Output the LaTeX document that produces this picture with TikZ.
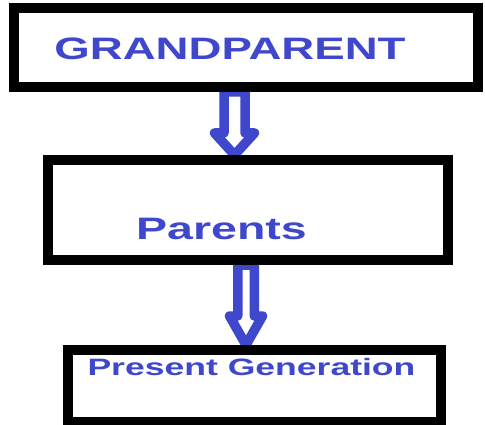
\documentclass[tikz,border=0pt]{standalone}
\usepackage{fontspec}
\setmainfont{Liberation Sans}
\usepackage{graphicx}
\usetikzlibrary{backgrounds}
\definecolor{pblue}{RGB}{63,72,204}
\tikzset{
  genbox/.style={draw=black, line width=10pt, fill=none, inner sep=0pt, rectangle},
  gentext/.style={text=pblue, font=\bfseries, inner sep=0pt, anchor=base},
  hollowline/.style={draw=pblue, fill=white, line width=9.5pt, line join=round},
  hollowarrow/.pic={
    \path[hollowline] (-\pgfkeysvalueof{/tikz/shafthalf},0) -- (-\pgfkeysvalueof{/tikz/shafthalf},\pgfkeysvalueof{/tikz/headstart})
      -- (-\pgfkeysvalueof{/tikz/headhalf},\pgfkeysvalueof{/tikz/headstart}) -- (0,\pgfkeysvalueof{/tikz/tiplen})
      -- (\pgfkeysvalueof{/tikz/headhalf},\pgfkeysvalueof{/tikz/headstart}) -- (\pgfkeysvalueof{/tikz/shafthalf},\pgfkeysvalueof{/tikz/headstart})
      -- (\pgfkeysvalueof{/tikz/shafthalf},0) -- cycle;
  },
  shafthalf/.initial=10, headhalf/.initial=20, headstart/.initial=40, tiplen/.initial=60
}
\begin{document}
\begin{tikzpicture}[x=1pt,y=-1pt]
\useasboundingbox (0,0) rectangle (485,425);
\node[genbox, minimum width=464pt, minimum height=79pt] (g) at (246,47.5) {};
\node[genbox, minimum width=400pt, minimum height=100pt] (p) at (248,210) {};
\node[genbox, minimum width=373pt, minimum height=72pt] (c) at (254.5,386) {};
\node[gentext, font=\fontsize{31}{31}\selectfont\bfseries] (gt) at (230,60) {\scalebox{1.47}[1]{GRANDPARENT}};
\node[gentext, font=\fontsize{31}{31}\selectfont\bfseries] (pt) at (221.5,240) {\scalebox{1.5}[1]{Parents}};
\node[gentext, font=\fontsize{23.7}{23.7}\selectfont\bfseries] (ct) at (251.5,375) {\scalebox{1.5}[1]{Present Generation}};
\begin{pgfonlayer}{background}
  \fill[white] (0,0) rectangle (485,425);
  \path (g.south) ++(-11.5,0) coordinate (a1);
  \path (p.south) ++(-2,0) coordinate (a2);
  \pic[shafthalf=10.5, headhalf=20, headstart=41, tiplen=63] at (a1) {hollowarrow};
  \pic[shafthalf=8.25, headhalf=16.5, headstart=51, tiplen=80] at (a2) {hollowarrow};
\end{pgfonlayer}
\end{tikzpicture}
\end{document}
